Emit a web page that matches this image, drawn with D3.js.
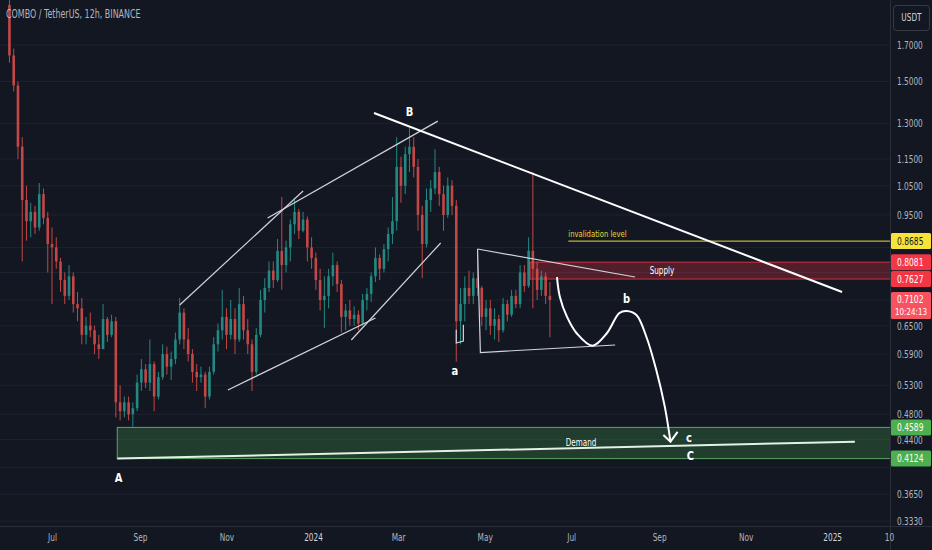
<!DOCTYPE html>
<html>
<head>
<meta charset="utf-8">
<script src="https://cdn.jsdelivr.net/npm/d3@7"></script>
<style>
  html, body { margin: 0; padding: 0; background: #131722; }
  svg { display: block; }
  text { font-family: 'Liberation Sans Narrow', 'DejaVu Sans Condensed', 'DejaVu Sans', sans-serif; }
</style>
</head>
<body>
<div id="chart"></div>
<script>
//* ------------------------------ DATA ---------------------------------------- //
const title = "COMBO / TetherUS, 12h, BINANCE";

// one candle every 3 days, starting 1 Jun 2023: [open, high, low, close]
const candleStart = new Date(2023, 5, 1);
const candleStepDays = 3;
const ohlc = [
  [1.95, 2.05, 1.60, 1.64], [1.64, 1.68, 1.45, 1.48], [1.48, 1.50, 1.15, 1.20], [1.20, 1.24, 0.81, 1.00],
  [1.00, 1.05, 0.87, 0.93], [0.93, 0.99, 0.88, 0.96], [0.96, 0.98, 0.89, 0.91], [0.91, 1.06, 0.90, 1.02],
  [1.02, 1.04, 0.92, 0.94], [0.94, 0.96, 0.78, 0.86], [0.86, 0.91, 0.70, 0.85], [0.85, 0.88, 0.79, 0.81],
  [0.81, 0.82, 0.73, 0.76], [0.76, 0.78, 0.70, 0.72], [0.72, 0.80, 0.71, 0.77], [0.77, 0.78, 0.68, 0.70],
  [0.70, 0.73, 0.66, 0.69], [0.69, 0.715, 0.61, 0.63], [0.63, 0.67, 0.61, 0.65], [0.65, 0.68, 0.625, 0.64],
  [0.64, 0.65, 0.59, 0.61], [0.61, 0.63, 0.58, 0.60], [0.60, 0.70, 0.60, 0.665], [0.665, 0.67, 0.615, 0.63],
  [0.63, 0.675, 0.625, 0.66], [0.66, 0.67, 0.475, 0.50], [0.50, 0.53, 0.47, 0.485], [0.485, 0.51, 0.475, 0.50],
  [0.50, 0.51, 0.47, 0.48], [0.48, 0.50, 0.46, 0.49], [0.49, 0.55, 0.485, 0.535], [0.535, 0.58, 0.52, 0.56],
  [0.56, 0.57, 0.525, 0.535], [0.535, 0.62, 0.52, 0.57], [0.57, 0.575, 0.485, 0.51], [0.51, 0.555, 0.505, 0.545],
  [0.545, 0.61, 0.54, 0.59], [0.59, 0.605, 0.55, 0.565], [0.565, 0.595, 0.54, 0.58], [0.58, 0.635, 0.57, 0.62],
  [0.62, 0.715, 0.61, 0.68], [0.68, 0.69, 0.60, 0.62], [0.62, 0.645, 0.575, 0.59], [0.59, 0.60, 0.535, 0.555],
  [0.555, 0.57, 0.52, 0.545], [0.545, 0.565, 0.535, 0.55], [0.55, 0.555, 0.49, 0.51], [0.51, 0.565, 0.505, 0.555],
  [0.555, 0.625, 0.55, 0.61], [0.61, 0.655, 0.595, 0.64], [0.64, 0.735, 0.62, 0.67], [0.67, 0.69, 0.60, 0.63],
  [0.63, 0.71, 0.62, 0.665], [0.665, 0.69, 0.59, 0.62], [0.62, 0.74, 0.615, 0.70], [0.70, 0.72, 0.62, 0.64],
  [0.64, 0.665, 0.59, 0.61], [0.61, 0.62, 0.52, 0.555], [0.555, 0.645, 0.55, 0.63], [0.63, 0.735, 0.625, 0.71],
  [0.71, 0.765, 0.68, 0.74], [0.74, 0.81, 0.73, 0.785], [0.785, 0.81, 0.74, 0.76], [0.76, 0.875, 0.755, 0.84],
  [0.84, 1.01, 0.735, 0.80], [0.80, 0.87, 0.78, 0.85], [0.85, 0.935, 0.81, 0.92], [0.92, 1.00, 0.89, 0.96],
  [0.96, 0.97, 0.875, 0.90], [0.90, 0.96, 0.895, 0.935], [0.935, 0.945, 0.81, 0.85], [0.85, 0.88, 0.79, 0.82],
  [0.82, 0.835, 0.735, 0.76], [0.76, 0.79, 0.685, 0.71], [0.71, 0.77, 0.645, 0.72], [0.72, 0.79, 0.69, 0.77],
  [0.77, 0.835, 0.745, 0.80], [0.80, 0.81, 0.73, 0.75], [0.75, 0.76, 0.635, 0.67], [0.67, 0.70, 0.64, 0.685],
  [0.685, 0.71, 0.65, 0.665], [0.665, 0.695, 0.65, 0.675], [0.675, 0.685, 0.64, 0.655], [0.655, 0.725, 0.65, 0.71],
  [0.71, 0.74, 0.685, 0.725], [0.725, 0.78, 0.705, 0.77], [0.77, 0.85, 0.755, 0.82], [0.82, 0.83, 0.76, 0.79],
  [0.79, 0.86, 0.78, 0.845], [0.845, 0.91, 0.81, 0.89], [0.89, 1.01, 0.86, 0.93], [0.93, 1.24, 0.90, 1.12],
  [1.12, 1.16, 0.99, 1.05], [1.05, 1.20, 1.02, 1.17], [1.17, 1.28, 1.10, 1.20], [1.20, 1.24, 1.08, 1.12],
  [1.12, 1.15, 0.90, 0.95], [0.95, 0.98, 0.765, 0.86], [0.86, 1.04, 0.85, 1.00], [1.00, 1.07, 0.96, 1.04],
  [1.04, 1.19, 1.02, 1.10], [1.10, 1.12, 0.98, 1.02], [1.02, 1.05, 0.90, 0.95], [0.95, 1.08, 0.94, 1.05],
  [1.05, 1.07, 0.95, 0.98], [0.98, 1.00, 0.575, 0.66], [0.66, 0.74, 0.61, 0.70], [0.70, 0.77, 0.66, 0.74],
  [0.74, 0.785, 0.70, 0.72], [0.72, 0.78, 0.70, 0.765], [0.765, 0.845, 0.72, 0.74], [0.74, 0.745, 0.65, 0.67],
  [0.67, 0.71, 0.64, 0.69], [0.69, 0.71, 0.63, 0.65], [0.65, 0.69, 0.62, 0.665], [0.665, 0.675, 0.615, 0.64],
  [0.64, 0.715, 0.635, 0.70], [0.70, 0.71, 0.66, 0.675], [0.675, 0.735, 0.67, 0.72], [0.72, 0.735, 0.69, 0.70],
  [0.70, 0.80, 0.69, 0.78], [0.78, 0.80, 0.73, 0.745], [0.745, 0.88, 0.74, 0.84], [0.84, 1.10, 0.69, 0.79],
  [0.79, 0.81, 0.71, 0.735], [0.735, 0.785, 0.72, 0.77], [0.77, 0.78, 0.70, 0.72], [0.72, 0.755, 0.625, 0.7102]
];

// grid levels; the ones hidden behind price tags get no label
const yTicks = [1.7, 1.5, 1.3, 1.15, 1.05, 0.95, 0.85, 0.78, 0.71, 0.65, 0.59, 0.53, 0.48, 0.44, 0.40, 0.365, 0.333];
const yHiddenLabels = [0.85, 0.78, 0.71, 0.40];
const xTicks = [
  ["2023-07-01", "Jul"], ["2023-09-01", "Sep"], ["2023-11-01", "Nov"], ["2024-01-01", "2024"],
  ["2024-03-01", "Mar"], ["2024-05-01", "May"], ["2024-07-01", "Jul"], ["2024-09-01", "Sep"],
  ["2024-11-01", "Nov"], ["2025-01-01", "2025"], ["2025-02-10", "10"]
];

// zones and levels (price)
const demandZone = { from: "2023-08-16", low: 0.4124, high: 0.4589 };
const supplyZone = { from: "2024-06-02", low: 0.7627, high: 0.8081 };
const invalidation = { from: "2024-06-29", price: 0.8685 };

// drawn lines: [date, price]
const thinLines = [
  [["2023-09-29", 0.698], ["2023-12-25", 1.031]],
  [["2023-11-30", 0.940], ["2024-03-29", 1.310]],
  [["2023-11-02", 0.5216], ["2024-02-14", 0.6675]],
  [["2024-01-28", 0.619], ["2024-03-31", 0.863]],
  [["2024-04-26", 0.8454], ["2024-08-15", 0.768]],
  [["2024-04-26", 0.8454], ["2024-04-28", 0.593], ["2024-08-01", 0.6085]],
  [["2024-04-11", 0.641], ["2024-04-11", 0.6127], ["2024-04-16", 0.617], ["2024-04-16", 0.652]]
];
const trendLine = [["2024-02-13", 1.347], ["2025-01-08", 0.7297]];
const demandLine = [["2023-08-16", 0.4124], ["2025-01-17", 0.437]];
const projection = [
  ["2024-06-21", 0.768], ["2024-06-23", 0.718], ["2024-06-28", 0.6705], ["2024-07-05", 0.633],
  ["2024-07-16", 0.607], ["2024-07-26", 0.633], ["2024-08-04", 0.679], ["2024-08-09", 0.6836],
  ["2024-08-16", 0.6744], ["2024-08-23", 0.626], ["2024-08-30", 0.5586], ["2024-09-05", 0.4927],
  ["2024-09-09", 0.437]
];
const arrowHead = [["2024-09-04", 0.447], ["2024-09-09", 0.437], ["2024-09-14", 0.452]];

const waveLabels = [
  ["A", "2023-08-17", 0.3846], ["B", "2024-03-09", 1.347], ["a", "2024-04-10", 0.5548],
  ["b", "2024-08-09", 0.710], ["c", "2024-09-22", 0.4425], ["C", "2024-09-23", 0.416]
];

const priceTags = [
  { v: 0.8685, bg: "#f7e43a", fg: "#131722" },
  { v: 0.8081, bg: "#f23645", fg: "#ffffff" },
  { v: 0.7627, bg: "#f23645", fg: "#ffffff" },
  { v: 0.7102, bg: "#f7525f", fg: "#ffffff", sub: "10:24:13" },
  { v: 0.4589, bg: "#4caf50", fg: "#ffffff" },
  { v: 0.4124, bg: "#4caf50", fg: "#ffffff" }
];
//* ------------------------------ END DATA ------------------------------------ //

//* ------------------------------ CONSTANTS ----------------------------------- //
const width = 932;
const height = 550;
const plotRight = 890;
const plotBottom = 526;
const parseDate = d3.timeParse("%Y-%m-%d");

const x = d3.scaleTime()
  .domain([new Date(2023, 4, 25, 8), new Date(2025, 1, 10, 18, 30)])
  .range([0, plotRight]);

const y = d3.scaleLog()
  .domain([0.3274, 1.9833])
  .range([plotBottom, 0]);

const px = d => x(parseDate(d[0]));
const py = d => y(d[1]);

const svg = d3.select("#chart").append("svg")
  .attr("width", width)
  .attr("height", height);
//* ------------------------------ END CONSTANTS ------------------------------- //

//* ------------------------------ FUNCTIONS ----------------------------------- //
function condense(selection, k) {
  // squeeze text horizontally, the screenshot uses a narrow face
  selection.each(function () {
    const w = this.getComputedTextLength();
    d3.select(this).attr("textLength", w * k).attr("lengthAdjust", "spacingAndGlyphs");
  });
}
//* ------------------------------ END FUNCTIONS ------------------------------- //

svg.append("rect").attr("width", width).attr("height", height).attr("fill", "#131722");

svg.append("defs").append("clipPath").attr("id", "plot")
  .append("rect").attr("width", plotRight).attr("height", plotBottom);

const plot = svg.append("g").attr("clip-path", "url(#plot)");

// horizontal grid
plot.selectAll(".grid").data(yTicks).join("line")
  .attr("x1", 0).attr("x2", plotRight)
  .attr("y1", d => y(d)).attr("y2", d => y(d))
  .attr("stroke", "#1e2230").attr("stroke-width", 1);

// zones
plot.append("rect")
  .attr("x", x(parseDate(demandZone.from)))
  .attr("y", y(demandZone.high))
  .attr("width", plotRight - x(parseDate(demandZone.from)) + 5)
  .attr("height", y(demandZone.low) - y(demandZone.high))
  .attr("fill", "rgba(76,175,80,0.25)")
  .attr("stroke", "rgba(102,187,106,0.85)").attr("stroke-width", 1);

plot.append("rect")
  .attr("x", x(parseDate(supplyZone.from)))
  .attr("y", y(supplyZone.high))
  .attr("width", plotRight - x(parseDate(supplyZone.from)) + 5)
  .attr("height", y(supplyZone.low) - y(supplyZone.high))
  .attr("fill", "rgba(242,54,69,0.28)")
  .attr("stroke", "rgba(242,54,69,0.8)").attr("stroke-width", 1);

// candles
const candles = ohlc.map((d, i) => ({
  date: d3.timeDay.offset(candleStart, i * candleStepDays),
  open: d[0], high: d[1], low: d[2], close: d[3]
}));

const candleG = plot.append("g").attr("opacity", 0.8);
const bodyW = 2.6;

candleG.selectAll(".wick").data(candles).join("line")
  .attr("x1", d => x(d.date)).attr("x2", d => x(d.date))
  .attr("y1", d => y(d.high)).attr("y2", d => y(d.low))
  .attr("stroke", d => d.close >= d.open ? "#26a69a" : "#ef5350")
  .attr("stroke-width", 1);

candleG.selectAll(".body").data(candles).join("rect")
  .attr("x", d => x(d.date) - bodyW / 2)
  .attr("width", bodyW)
  .attr("y", d => y(Math.max(d.open, d.close)))
  .attr("height", d => Math.max(1, Math.abs(y(d.open) - y(d.close))))
  .attr("fill", d => d.close >= d.open ? "#26a69a" : "#ef5350");

// invalidation level
plot.append("line")
  .attr("x1", x(parseDate(invalidation.from))).attr("x2", plotRight)
  .attr("y1", y(invalidation.price)).attr("y2", y(invalidation.price))
  .attr("stroke", "#e8d93a").attr("stroke-width", 1);

plot.append("text")
  .attr("x", x(parseDate(invalidation.from)))
  .attr("y", y(invalidation.price) - 4)
  .attr("fill", "#e8d93a").attr("font-size", 9.5)
  .text("invalidation level")
  .call(condense, 0.8);

// drawn lines
const line = d3.line().x(px).y(py);

plot.selectAll(".thin").data(thinLines).join("path")
  .attr("d", line).attr("fill", "none")
  .attr("stroke", "#d1d4dc").attr("stroke-width", 1.2);

plot.append("path").attr("d", line(trendLine))
  .attr("fill", "none").attr("stroke", "#ffffff").attr("stroke-width", 2);

plot.append("path").attr("d", line(demandLine))
  .attr("fill", "none").attr("stroke", "#e3f2e3").attr("stroke-width", 2);

plot.append("path").attr("d", d3.line().x(px).y(py).curve(d3.curveCatmullRom)(projection))
  .attr("fill", "none").attr("stroke", "#ffffff").attr("stroke-width", 2);

plot.append("path").attr("d", line(arrowHead))
  .attr("fill", "none").attr("stroke", "#ffffff").attr("stroke-width", 2);

// zone labels
plot.append("text")
  .attr("x", x(parseDate("2024-09-03"))).attr("y", y(0.785))
  .attr("text-anchor", "middle").attr("dominant-baseline", "middle")
  .attr("fill", "#ffffff").attr("font-size", 10).text("Supply")
  .call(condense, 0.8);

plot.append("text")
  .attr("x", x(parseDate("2024-07-08"))).attr("y", y(0.435))
  .attr("text-anchor", "middle").attr("dominant-baseline", "middle")
  .attr("fill", "#ffffff").attr("font-size", 10).text("Demand")
  .call(condense, 0.8);

// wave labels
plot.selectAll(".wave").data(waveLabels).join("text")
  .attr("x", d => x(parseDate(d[1]))).attr("y", d => y(d[2]))
  .attr("text-anchor", "middle").attr("dominant-baseline", "middle")
  .attr("fill", "#ffffff").attr("font-size", 13).attr("font-weight", "bold")
  .text(d => d[0])
  .call(condense, 0.85);

// title
svg.append("text")
  .attr("x", 6).attr("y", 18)
  .attr("fill", "#b2b5be").attr("font-size", 11.5)
  .text(title)
  .call(condense, 0.77);

// axes frame
svg.append("line").attr("x1", plotRight + 0.5).attr("x2", plotRight + 0.5)
  .attr("y1", 0).attr("y2", height).attr("stroke", "#2a2e39");
svg.append("line").attr("x1", 0).attr("x2", width)
  .attr("y1", plotBottom + 0.5).attr("y2", plotBottom + 0.5).attr("stroke", "#2a2e39");

// y axis
const yAxis = svg.append("g")
  .attr("transform", `translate(${plotRight},0)`)
  .call(d3.axisRight(y).tickValues(yTicks.filter(d => !yHiddenLabels.includes(d)))
    .tickFormat(d3.format(".4f")).tickSize(0).tickPadding(7));
yAxis.select(".domain").remove();
yAxis.selectAll("text").attr("fill", "#b2b5be").attr("font-size", 10.5)
  .attr("font-family", null)
  .call(condense, 0.78);

// x axis
const xLabel = new Map(xTicks.map(d => [+parseDate(d[0]), d[1]]));
const xAxis = svg.append("g")
  .attr("transform", `translate(0,${plotBottom})`)
  .call(d3.axisBottom(x).tickValues(xTicks.map(d => parseDate(d[0])))
    .tickFormat(d => xLabel.get(+d)).tickSize(0).tickPadding(8));
xAxis.select(".domain").remove();
xAxis.selectAll("text")
  .attr("fill", d => /^\d{4}$/.test(xLabel.get(+d)) ? "#d1d4dc" : "#b2b5be")
  .attr("font-size", 10.5)
  .attr("font-family", null)
  .call(condense, 0.78);

// USDT box
svg.append("rect").attr("x", 893.5).attr("y", 5.5).attr("width", 36).attr("height", 25)
  .attr("rx", 3).attr("fill", "#131722").attr("stroke", "#363a45");
svg.append("text").attr("x", 911.5).attr("y", 18).attr("text-anchor", "middle")
  .attr("dominant-baseline", "middle").attr("fill", "#d1d4dc").attr("font-size", 10.5)
  .text("USDT")
  .call(condense, 0.78);

// price tags
const tags = svg.selectAll(".tag").data(priceTags).join("g")
  .attr("transform", d => `translate(${plotRight + 1},${y(d.v)})`);

tags.append("rect")
  .attr("x", 0).attr("y", -8).attr("width", 40)
  .attr("height", d => d.sub ? 27 : 16)
  .attr("rx", 1.5)
  .attr("fill", d => d.bg);

tags.append("text")
  .attr("x", 6).attr("y", 0.5)
  .attr("dominant-baseline", "middle")
  .attr("fill", d => d.fg).attr("font-size", 10.5)
  .text(d => d3.format(".4f")(d.v))
  .call(condense, 0.8);

// countdown under the last price, in a narrower face so it fits the tag
tags.filter(d => d.sub).append("text")
  .attr("x", 4).attr("y", 12.5)
  .attr("dominant-baseline", "middle")
  .attr("font-family", "'Liberation Sans', sans-serif")
  .attr("fill", d => d.fg).attr("font-size", 9)
  .text(d => d.sub)
  .call(condense, 0.88);
</script>
</body>
</html>
